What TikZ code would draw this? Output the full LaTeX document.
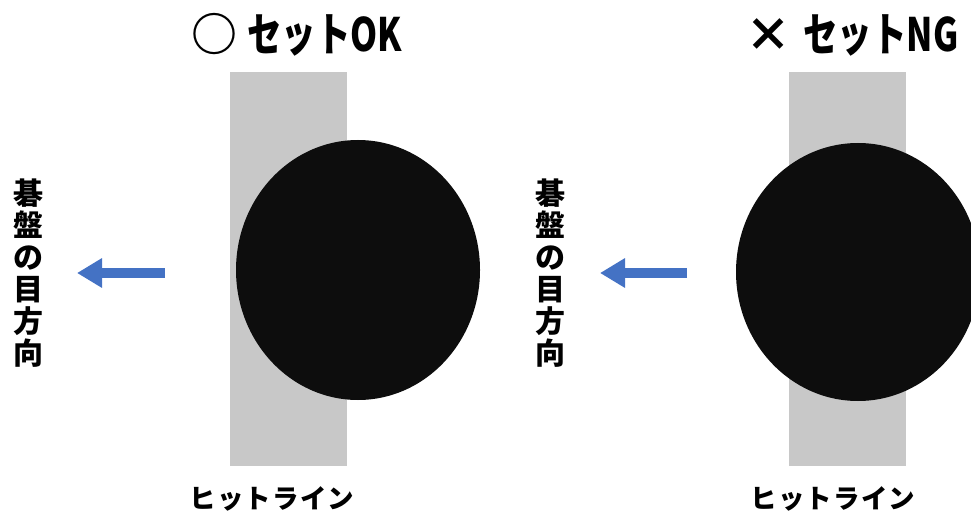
\documentclass[tikz,border=0pt]{standalone}
\usepackage{fontspec}
\setmainfont{Noto Sans CJK JP}
\newfontfamily\titlefont[FakeStretch=0.75]{Noto Sans CJK JP}
\newfontfamily\linefont[LetterSpace=4]{Noto Sans CJK JP}
\usepackage{xcolor}
\definecolor{Silver Sand}{HTML}{C8C8C8}
\definecolor{Go Black}{HTML}{0D0D0D}
\definecolor{Office Blue}{HTML}{4472C4}
\colorlet{cGrey}{Silver Sand}
\colorlet{cBlack}{Go Black}
\colorlet{cBlue}{Office Blue}
\usepackage{tikz}
\usetikzlibrary{arrows.meta}
\tikzset{
	hitline/.style={
		fill=cGrey,
		draw=none
	},
	stone/.style={
		fill=cBlack,
		draw=none
	},
	heading/.style={
		font=\bfseries\fontsize{46}{46}\selectfont,
		anchor=west,
		inner sep=0pt
	},
	dirtext/.style={
		font=\bfseries\fontsize{30}{32}\selectfont,
		align=center,
		inner sep=0pt
	},
	linetext/.style={
		font=\linefont\bfseries\fontsize{26.5}{26.5}\selectfont,
		inner sep=0pt
	},
	dirarrow/.style={
		-{Triangle[width=28pt,length=25pt]},
		draw=cBlue,
		line width=10pt
	}
}

\begin{document}
\begin{tikzpicture}[x=1pt, y=-1pt]
		\useasboundingbox (0,0) rectangle (971,513);
		\clip (0,0) rectangle (971,513);

		% left : set OK
		\fill[hitline] (230,72) rectangle (347,466);
		\fill[stone] (358,270) ellipse [x radius=122, y radius=130];
		\node[heading] (titleOK) at (191,35) {○\hspace{10pt}{\titlefont セットOK}};
		\node[dirtext] (dirOK) at (28,273) {碁\\盤\\の\\目\\方\\向};
		\node[linetext] (lineOK) at (272,499) {ヒットライン};
		\coordinate (fromOK) at (165,273);
		\coordinate (toOK) at (77,273);
		\draw[dirarrow] (fromOK) -- (toOK);

		% right : set NG
		\fill[hitline] (789,72) rectangle (906,466);
		\fill[stone] (858,272) ellipse [x radius=122, y radius=129];
		\node[heading] (titleNG) at (745,35) {×\hspace{12pt}{\titlefont セットNG}};
		\node[dirtext] (dirNG) at (550,273) {碁\\盤\\の\\目\\方\\向};
		\node[linetext] (lineNG) at (833,499) {ヒットライン};
		\coordinate (fromNG) at (687,273);
		\coordinate (toNG) at (600,273);
		\draw[dirarrow] (fromNG) -- (toNG);
	\end{tikzpicture}
\end{document}
